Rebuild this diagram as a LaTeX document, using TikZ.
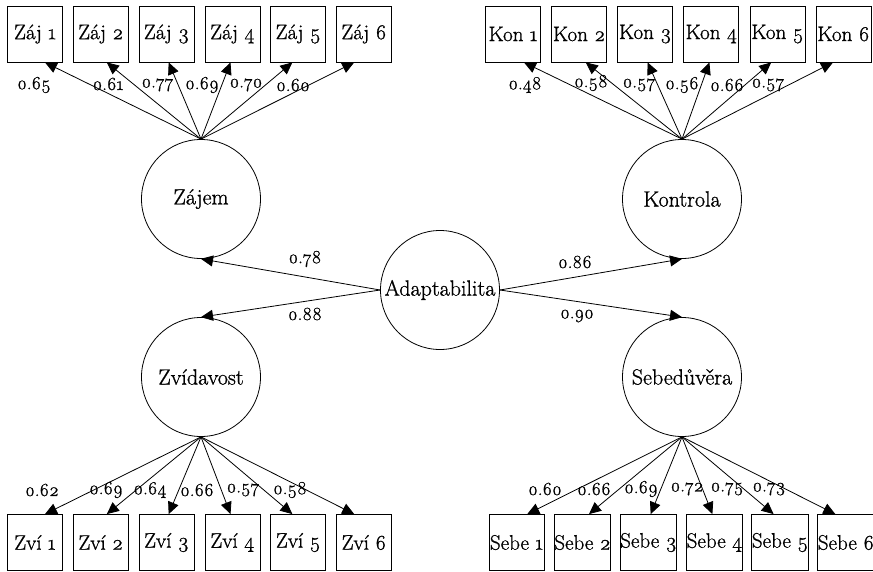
\documentclass[tikz,border=0pt]{standalone}
\usepackage{fontspec}
\setmainfont{Latin Modern Roman}[Numbers=OldStyle,FakeBold=1]
\usetikzlibrary{arrows.meta,calc}
\begin{document}
\begin{tikzpicture}[x=1pt,y=-1pt,
  box/.style={draw,line width=0.8pt,minimum width=55pt,minimum height=56pt,inner sep=0pt,font=\fontsize{21}{25}\selectfont},
  lat/.style={draw,circle,line width=0.8pt,minimum size=119pt,inner sep=0pt,font=\fontsize{22}{26}\selectfont},
  lbl/.style={inner sep=0pt,font=\fontsize{18.5}{22}\selectfont},
  arr/.style={-{Triangle[length=12pt,width=11pt]},line width=0.8pt}]
\useasboundingbox (0,0) rectangle (873,571);

% latent variables
\node[lat] (adapt) at (440,290) {Adaptabilita};
\node[lat] (zajem) at (201,199) {Zájem};
\node[lat] (kontrola) at (682,199) {Kontrola};
\node[lat] (zvid) at (201,377) {Zvídavost};
\node[lat] (sebed) at (682,377) {Sebedůvěra};

% indicator boxes
\foreach \i/\x in {1/35,2/100.8,3/166.6,4/232.4,5/298.2,6/364}{
  \node[box] (za\i) at (\x,34) {Záj \i};
  \node[box] (zv\i) at (\x,542.5) {Zví \i};
}
\foreach \i/\x in {1/513,2/579.1,3/645.2,4/711.3,5/777.4,6/843.5}{
  \node[box] (ko\i) at (\x,34) {Kon \i};
}
\foreach \i/\x in {1/516.5,2/582.5,3/648.5,4/714.5,5/780,6/846}{
  \node[box] (se\i) at (\x,542.5) {Sebe \i};
}

% loadings arrows
\foreach \i in {1,...,6}{
  \draw[arr] (zajem.north) -- ($(za\i.south)!0.06!(za\i.south -| zajem.north)$);
  \draw[arr] (kontrola.north) -- ($(ko\i.south)!0.065!(ko\i.south -| kontrola.north)$);
  \draw[arr] (zvid.south) -- ($(zv\i.north)!0.06!(zv\i.north -| zvid.south)$);
  \draw[arr] (sebed.south) -- ($(se\i.north)!0.065!(se\i.north -| sebed.south)$);
}

% structural arrows
\draw[arr] (adapt.west) -- (zajem.south);
\draw[arr] (adapt.west) -- (zvid.north);
\draw[arr] (adapt.east) -- (kontrola.south);
\draw[arr] (adapt.east) -- (sebed.north);

% structural labels
\node[lbl] (s1) at (305,259) {0.78};
\node[lbl] (s2) at (305,314) {0.88};
\node[lbl] (s3) at (575,262) {0.86};
\node[lbl] (s4) at (577,316) {0.90};

% loading labels top left
\node[lbl] (a1) at (34,85) {0.65};
\node[lbl] (a2) at (108,84) {0.61};
\node[lbl] (a3) at (157.5,85) {0.77};
\node[lbl] (a4) at (202,85) {0.69};
\node[lbl] (a5) at (246,85) {0.70};
\node[lbl] (a6) at (293,85) {0.60};
% top right
\node[lbl] (b1) at (525,85) {0.48};
\node[lbl] (b2) at (591,83) {0.58};
\node[lbl] (b3) at (639,85) {0.57};
\node[lbl] (b4) at (682,85) {0.56};
\node[lbl] (b5) at (727,85) {0.66};
\node[lbl] (b6) at (768,85) {0.57};
% bottom left
\node[lbl] (c1) at (42,490) {0.62};
\node[lbl] (c2) at (106,490) {0.69};
\node[lbl] (c3) at (150,490) {0.64};
\node[lbl] (c4) at (197,490) {0.66};
\node[lbl] (c5) at (243,490) {0.57};
\node[lbl] (c6) at (290,490) {0.58};
% bottom right
\node[lbl] (d1) at (545,489) {0.60};
\node[lbl] (d2) at (594,489) {0.66};
\node[lbl] (d3) at (641,489) {0.69};
\node[lbl] (d4) at (687,489) {0.72};
\node[lbl] (d5) at (727,489) {0.75};
\node[lbl] (d6) at (769,489) {0.73};
\end{tikzpicture}
\end{document}
